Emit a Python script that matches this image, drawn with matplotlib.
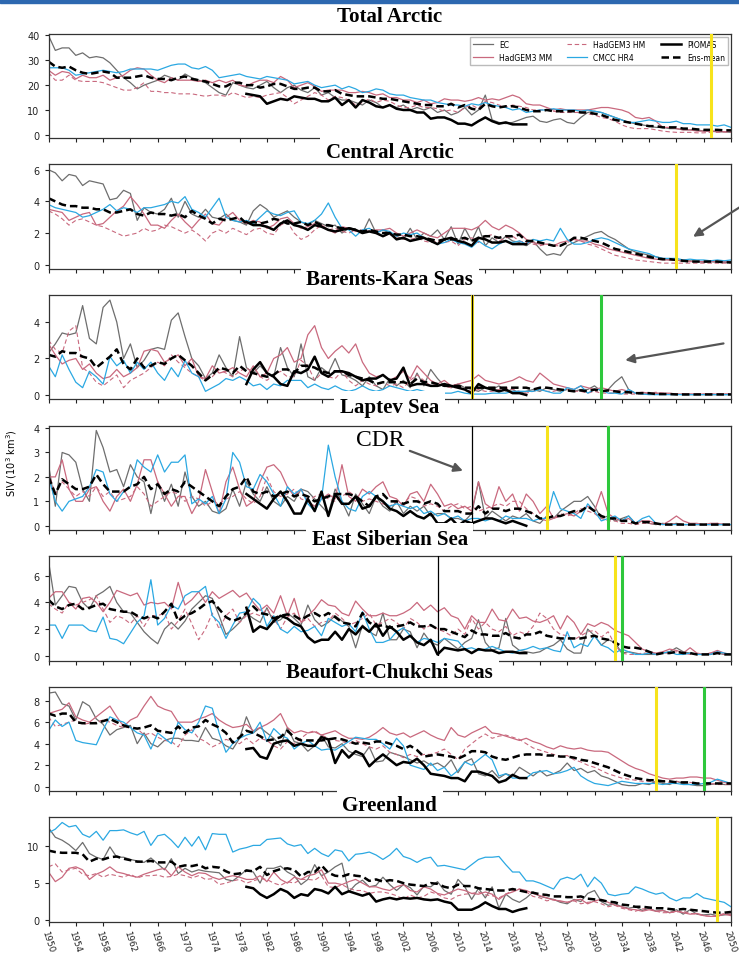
import numpy as np
import matplotlib
matplotlib.use("Agg")
import matplotlib.pyplot as plt
from matplotlib.patches import Rectangle

years = np.arange(1950, 2051)
piomas_years = np.arange(1979, 2021)

# Total Arctic
ta_ec = [40, 34, 35, 35, 32, 33, 31, 31.5, 31, 29,
         26, 23, 21, 18.5, 20, 21, 22, 24, 23, 22,
         24.5, 23, 22, 21, 19, 17, 16, 21, 20, 19,
         18.5, 20, 21.5, 19, 17, 19, 20, 18, 17, 19,
         16, 17, 15, 14, 14, 13, 12, 14, 13, 11,
         12, 11, 12, 10, 11, 10, 11, 9, 10, 8,
         9, 11, 8, 10, 16, 6, 5, 4.5, 5, 6,
         7, 7.5, 5.5, 5, 6, 6.5, 5, 4.5, 7, 9,
         9.5, 9, 8, 7, 6, 5, 4.5, 4, 3.5, 3,
         3, 2.5, 2.5, 2, 2, 2, 1.5, 1.5, 1.2, 1.2,
         1]
ta_mm = [26, 24, 25.5, 25, 22.5, 24, 23, 23, 24, 22,
         23, 24, 26, 27, 26.5, 24, 22, 21, 23, 22,
         22, 22, 21.5, 22, 21, 22, 21, 22, 20, 19.5,
         21, 22, 22, 21, 23.5, 22, 19, 20, 21, 19.5,
         17.5, 18, 18, 18, 17, 17, 17.5, 17, 16, 16.5,
         15, 15, 14, 14, 13, 14, 12.5, 13, 14.5, 14,
         14, 13.5, 14, 15, 14, 14.5, 14, 15, 16, 15,
         12.5, 12, 12, 11, 10, 10.5, 10, 10, 10, 10,
         10.5, 11, 11, 10.5, 10, 9, 7, 6.5, 7, 5.5,
         3, 3, 2.5, 2, 2, 1.5, 1.5, 1.5, 1.5, 1.2,
         1.5]
ta_hm = [25, 22, 22, 24, 22, 21.5, 21.5, 21.5, 21, 20,
         19, 18, 18, 19, 21, 17.5, 17.5, 17, 17, 16.5,
         16.5, 16.5, 16, 15.5, 16, 16, 15.5, 17, 16, 15,
         15.5, 15, 16, 16.5, 17, 15, 12.5, 14, 15.5, 17,
         16, 14, 15.5, 15, 14, 12, 13, 14.5, 13, 14,
         13.5, 12, 11, 11, 12, 11, 11, 10.5, 9.5, 10,
         9, 11, 12, 10.5, 13.5, 13, 12, 11, 12, 11.5,
         11, 10, 10, 10, 9.5, 9, 9, 9, 9, 8.5,
         8, 7, 6.5, 5.5, 4, 3, 2.5, 2.5, 2.5, 2,
         1.5, 1.2, 1, 1, 1, 0.8, 0.8, 1, 1, 1.2,
         1]
ta_cmcc = [27, 27, 27, 26, 24, 24.5, 25, 25.5, 26, 25.5,
           25, 25.5, 26.5, 26.5, 26.5, 26.5, 26, 27, 28, 28.5,
           28.5, 27, 26.5, 27.5, 26, 23, 23.5, 24, 24.5, 23.5,
           23, 22.5, 23.5, 23, 22.5, 22, 20.5, 21, 21.5, 20,
           19, 19.5, 20, 18.5, 19.5, 18.5, 17, 17.5, 18.5, 18,
           16.5, 16, 16, 15, 14.5, 14, 14, 13, 12.5, 12,
           12, 11.5, 12.5, 12, 13, 12, 11.5, 11, 10, 10.5,
           9, 9.5, 10, 10, 10.5, 10, 10, 10, 9.5, 10,
           9.5, 9, 8, 7, 6, 5, 5, 5.5, 6, 5.5,
           5, 5, 5.5, 4.5, 4.5, 4, 4, 4, 3.5, 4,
           3]
ta_ens = [29.5, 27.5, 27, 27.5, 26, 25, 24.5, 25, 25.5, 25,
          23, 23, 23, 23.5, 24, 23, 22.5, 22.5, 22, 23,
          23.5, 22.5, 22, 21.5, 20.5, 19.5, 19.5, 21, 21, 20,
          20, 19, 19.5, 20.5, 20.5, 19.5, 18.5, 18.5, 19, 19,
          17.5, 17.5, 18, 16.5, 16, 15.5, 15.5, 15.5, 15, 14.5,
          14.5, 14, 13.5, 13, 12.5, 12, 12, 11.5, 11.5, 12.5,
          11, 12, 10.5, 10, 12.5, 11.5, 11, 11.5, 11.5, 11,
          10, 9.5, 9.5, 10, 9.5, 9.5, 9.5, 9.5, 9, 9,
          8.5, 8, 7, 6, 5.5, 5, 4.5, 4, 3.5, 3.5,
          3, 3, 3, 2.5, 2.5, 2.2, 2, 2, 2, 1.8,
          1.8]
ta_pio = [16.5,
          16, 15.5, 12.5, 13.5, 14.5, 14, 15.5, 15, 14.5, 14.5,
          13.5, 13.5, 15, 12, 14, 11, 14, 13, 11.5, 11,
          12, 10.5, 10, 10, 9, 9, 6.5, 7, 7, 6,
          4.5, 4.5, 3.8, 5.5, 7, 5.5, 4.5, 5, 4.2, 4.2,
          4.2]

# Central Arctic
ca_ec = [6.0, 5.8, 5.3, 5.7, 5.6, 5.0, 5.3, 5.2, 5.1, 4.1,
         4.2, 4.7, 4.5, 2.8, 3.6, 3.3, 3.2, 3.5, 4.2, 3.0,
         4.0, 3.2, 3.0, 3.5, 3.0, 2.9, 3.2, 2.8, 2.7, 2.5,
         3.4, 3.8, 3.5, 3.0, 3.2, 3.4, 3.0, 2.7, 2.5, 2.8,
         2.6, 2.4, 2.5, 2.0, 2.3, 2.2, 2.0, 2.9, 2.0, 2.2,
         2.0, 1.8, 1.6, 2.3, 1.6, 2.0, 1.8, 2.2, 1.6, 2.4,
         1.3, 2.3, 1.5, 2.4, 1.2, 1.7, 1.4, 1.8, 1.5, 1.4,
         1.2, 1.5, 1.0, 0.6, 0.7, 0.6, 1.2, 1.4, 1.6, 1.8,
         2.0, 2.1, 1.8, 1.6, 1.3, 1.0, 0.8, 0.7, 0.6, 0.5,
         0.4, 0.3, 0.3, 0.2, 0.25, 0.2, 0.15, 0.2, 0.15, 0.15,
         0.15]
ca_mm = [3.5, 3.4, 3.3, 2.8, 3.0, 3.2, 3.3, 2.5, 2.6, 3.0,
         3.4, 3.7, 4.3, 3.8, 3.2, 2.5, 2.5, 2.3, 2.8, 3.2,
         2.7, 2.3, 2.8, 3.2, 2.6, 2.5, 3.0, 3.3, 2.8, 2.6,
         2.8, 2.7, 2.3, 2.5, 2.9, 3.0, 2.6, 2.3, 2.4, 2.6,
         2.5, 2.2, 2.0, 2.4, 2.3, 2.1, 2.2, 2.1, 2.2, 2.2,
         2.3, 2.0, 1.8, 2.0, 2.2, 2.0, 1.8, 1.7, 2.0, 2.3,
         2.3, 2.3, 2.2, 2.4, 2.8, 2.4, 2.2, 2.5, 2.3, 2.0,
         1.6, 1.4, 1.3, 1.3, 1.2, 1.4, 1.5, 1.6, 1.5, 1.5,
         1.3, 1.2, 1.0, 0.9, 0.8, 0.7, 0.6, 0.5, 0.4, 0.35,
         0.3, 0.3, 0.3, 0.25, 0.2, 0.2, 0.2, 0.2, 0.2, 0.2,
         0.15]
ca_hm = [3.4, 3.2, 2.9, 2.5, 2.8, 2.9, 2.7, 2.5, 2.4, 2.2,
         2.0, 1.8, 1.9, 2.0, 2.3, 2.1, 2.2, 2.5, 2.4, 2.2,
         2.0, 2.2, 1.9, 1.5, 2.0, 2.2, 2.0, 2.3, 2.1, 1.9,
         2.2, 2.3, 2.0, 1.9, 2.5, 2.7, 2.0, 1.6, 1.8, 2.2,
         2.5, 2.2, 2.3, 2.1, 2.0, 2.2, 2.0, 2.1, 2.0, 1.8,
         1.9, 1.7, 1.6, 1.6, 1.7, 1.5, 1.4, 1.5, 1.4, 1.5,
         1.2, 1.6, 1.7, 1.4, 1.8, 1.9, 1.5, 1.7, 1.8, 1.5,
         1.4, 1.3, 1.2, 1.3, 1.2, 1.2, 1.4, 1.6, 1.5, 1.3,
         1.2, 1.0, 0.8, 0.6, 0.5, 0.4, 0.3, 0.25, 0.2, 0.15,
         0.1, 0.1, 0.1, 0.1, 0.1, 0.1, 0.1, 0.1, 0.1, 0.1,
         0.1]
ca_cmcc = [3.8, 3.6, 3.5, 3.4, 3.3, 3.0, 3.1, 3.3, 3.5, 3.8,
           3.4, 3.6, 3.5, 3.3, 3.6, 3.6, 3.7, 3.8, 4.0, 3.9,
           4.3, 3.5, 3.3, 3.0, 3.6, 4.2, 3.0, 2.8, 2.7, 2.8,
           2.6, 3.0, 3.4, 3.2, 3.1, 3.3, 3.4, 2.7, 2.6, 2.8,
           3.2, 3.9, 3.0, 2.3, 2.2, 1.8, 2.2, 2.3, 2.0, 2.2,
           2.1, 1.8, 2.0, 1.9, 2.0, 1.7, 1.5, 1.3, 1.4, 1.6,
           1.4, 1.3, 1.1, 1.5, 1.2, 1.0, 1.3, 1.5, 1.4, 1.5,
           1.3, 1.6, 1.5, 1.6, 1.5, 2.3, 1.6, 1.3, 1.3, 1.4,
           1.6, 1.7, 1.6, 1.4, 1.2, 1.0, 0.9, 0.8, 0.7, 0.5,
           0.4, 0.4, 0.4, 0.3, 0.35, 0.3, 0.3, 0.25, 0.3, 0.25,
           0.3]
ca_ens = [4.2, 4.0, 3.8, 3.7, 3.7, 3.6, 3.6, 3.5, 3.5, 3.3,
          3.3, 3.4, 3.5, 3.2, 3.1, 3.3, 3.2, 3.2, 3.1, 3.2,
          3.0, 3.4, 3.1, 2.9, 2.6, 2.9, 2.8, 2.9, 3.0, 2.6,
          2.7, 2.6, 2.7, 2.9, 2.8, 2.6, 2.6, 2.7, 2.5, 2.7,
          2.5, 2.5, 2.4, 2.3, 2.3, 2.2, 2.1, 2.2, 2.1, 2.0,
          2.0, 1.9, 1.9, 1.8, 1.8, 1.7, 1.6, 1.5, 1.6, 1.6,
          1.6, 1.7, 1.5, 1.7, 1.8, 1.8, 1.7, 1.8, 1.8, 1.9,
          1.5, 1.5, 1.4, 1.3, 1.2, 1.2, 1.4, 1.7, 1.7, 1.6,
          1.5, 1.4, 1.2, 1.0, 0.9, 0.8, 0.7, 0.6, 0.5, 0.4,
          0.35, 0.35, 0.3, 0.25, 0.2, 0.2, 0.2, 0.2, 0.2, 0.15,
          0.15]
ca_pio = [2.7,
          2.5, 2.5, 2.4, 2.2, 2.6, 2.8, 2.5, 2.4, 2.2, 2.5,
          2.4, 2.2, 2.1, 2.2, 2.3, 2.2, 2.0, 2.1, 2.0, 1.8,
          2.0, 1.6, 1.7, 1.5, 1.6, 1.7, 1.5, 1.3, 1.6, 1.7,
          1.5, 1.4, 1.2, 1.7, 1.6, 1.4, 1.4, 1.5, 1.3, 1.3,
          1.3]

# Barents-Kara Seas
bk_ec = [2.3, 2.8, 3.4, 3.3, 3.4, 4.9, 3.1, 2.8, 4.8, 5.2,
         4.0, 2.0, 2.8, 1.5, 1.9, 2.5, 2.6, 2.5, 4.1, 4.5,
         3.2, 2.0, 1.6, 0.9, 1.2, 2.2, 1.5, 1.0, 3.2, 1.5,
         1.2, 1.6, 1.2, 1.0, 2.6, 1.5, 1.0, 2.8, 1.0, 0.8,
         1.5, 1.2, 2.0, 1.1, 1.0, 0.8, 0.5, 1.0, 0.5, 0.3,
         0.9, 0.5, 0.8, 0.4, 1.2, 0.5, 1.4, 0.9, 0.5, 0.4,
         0.6, 0.4, 0.3, 0.2, 0.4, 0.3, 0.5, 0.2, 0.3, 0.1,
         0.2, 0.3, 0.2, 0.4, 0.3, 0.2, 0.3, 0.2, 0.3, 0.3,
         0.5, 0.2, 0.3, 0.7, 1.0, 0.3, 0.1, 0.05, 0.05, 0.1,
         0.05, 0.05, 0.05, 0.02, 0.02, 0.02, 0.02, 0.02, 0.02, 0.02,
         0.02]
bk_mm = [2.8, 2.2, 1.7, 1.9, 2.0, 1.4, 1.7, 1.2, 0.9, 1.0,
         1.4, 1.0, 1.2, 1.5, 2.4, 2.5, 2.4, 1.8, 2.0, 2.2,
         1.6, 2.0, 1.0, 0.9, 1.6, 1.2, 1.3, 1.5, 1.2, 1.0,
         1.6, 1.0, 1.2, 2.0, 2.2, 2.6, 1.8, 2.0, 3.3, 3.8,
         2.6, 2.0, 2.4, 2.7, 2.3, 2.8, 1.8, 1.2, 1.0, 1.1,
         0.8, 1.0, 1.3, 0.9, 1.6, 1.2, 0.8, 0.6, 0.8, 0.5,
         0.6, 0.7, 0.8, 1.1, 0.8, 0.7, 0.6, 0.7, 0.8, 1.0,
         0.8, 0.7, 1.2, 0.9, 0.6, 0.5, 0.4, 0.3, 0.5, 0.4,
         0.3, 0.4, 0.3, 0.2, 0.3, 0.2, 0.1, 0.15, 0.1, 0.1,
         0.1, 0.1, 0.05, 0.05, 0.05, 0.05, 0.05, 0.05, 0.05, 0.05,
         0.05]
bk_hm = [3.0, 2.5, 2.3, 3.5, 3.8, 1.5, 1.2, 0.7, 0.5, 0.8,
         1.1, 0.4, 0.8, 1.0, 1.2, 1.5, 1.8, 1.6, 2.2, 1.8,
         1.5, 1.2, 1.0, 0.8, 1.0, 1.4, 1.2, 1.0, 1.3, 1.5,
         1.2, 1.0, 0.8, 1.1, 1.3, 1.0, 1.0, 1.9, 1.6, 0.8,
         1.2, 1.0, 0.9, 1.3, 0.8, 0.5, 0.8, 0.6, 0.5, 0.7,
         0.5, 0.6, 0.4, 0.8, 1.1, 0.8, 0.5, 0.6, 0.5, 0.4,
         0.4, 0.3, 0.2, 0.3, 0.2, 0.2, 0.3, 0.4, 0.3, 0.2,
         0.1, 0.2, 0.3, 0.2, 0.2, 0.3, 0.3, 0.2, 0.2, 0.1,
         0.2, 0.1, 0.1, 0.1, 0.05, 0.05, 0.05, 0.05, 0.1, 0.15,
         0.1, 0.05, 0.05, 0.05, 0.05, 0.05, 0.05, 0.05, 0.05, 0.05,
         0.05]
bk_cmcc = [1.6, 1.0, 2.2, 1.4, 0.7, 0.4, 1.3, 1.0, 0.6, 2.1,
           1.6, 1.9, 1.2, 1.8, 1.4, 1.8, 1.2, 0.8, 1.5, 1.0,
           1.9, 1.2, 1.0, 0.2, 0.4, 0.6, 0.9, 0.8, 1.0, 0.8,
           0.5, 0.6, 0.3, 0.6, 0.5, 0.8, 0.8, 0.8, 0.4, 0.6,
           0.4, 0.3, 0.5, 0.3, 0.2, 0.3, 0.5, 0.3, 0.2, 0.3,
           0.5, 0.4, 0.3, 0.2, 0.3, 0.2, 0.1, 0.1, 0.1, 0.1,
           0.2, 0.1, 0.05, 0.05, 0.05, 0.1, 0.1, 0.1, 0.2, 0.2,
           0.2, 0.2, 0.3, 0.2, 0.1, 0.1, 0.4, 0.3, 0.5, 0.1,
           0.3, 0.3, 0.1, 0.1, 0.05, 0.3, 0.1, 0.05, 0.02, 0.02,
           0.02, 0.02, 0.02, 0.02, 0.02, 0.02, 0.02, 0.02, 0.02, 0.02,
           0.02]
bk_ens = [2.2, 2.1, 2.4, 2.3, 2.3, 2.1, 2.0, 1.5, 1.8, 2.1,
          2.5, 1.7, 1.4, 2.0, 1.5, 1.6, 1.8, 1.7, 2.0, 2.2,
          1.9, 1.6, 1.2, 0.8, 1.1, 1.5, 1.4, 1.2, 1.6, 1.3,
          1.2, 1.1, 1.0, 1.1, 1.4, 1.4, 1.2, 1.6, 1.6, 1.5,
          1.3, 1.2, 1.3, 1.3, 1.1, 1.0, 0.9, 0.8, 0.6, 0.7,
          0.7, 0.7, 0.7, 0.6, 0.9, 0.7, 0.7, 0.6, 0.5, 0.5,
          0.5, 0.4, 0.4, 0.4, 0.4, 0.4, 0.4, 0.4, 0.4, 0.4,
          0.4, 0.3, 0.4, 0.4, 0.35, 0.3, 0.25, 0.2, 0.25, 0.2,
          0.3, 0.2, 0.25, 0.2, 0.15, 0.15, 0.1, 0.1, 0.1, 0.05,
          0.05, 0.05, 0.03, 0.03, 0.03, 0.03, 0.03, 0.03, 0.03, 0.03,
          0.03]
bk_pio = [0.6,
          1.4, 1.8, 1.2, 1.0, 0.6, 0.5, 1.3, 1.2, 1.4, 2.1,
          1.2, 1.0, 1.3, 1.3, 1.2, 1.0, 0.8, 0.9, 0.9, 1.1,
          0.8, 0.9, 1.5, 0.5, 0.6, 0.6, 0.5, 0.5, 0.6, 0.5,
          0.4, 0.3, 0.1, 0.6, 0.4, 0.3, 0.2, 0.3, 0.1, 0.1,
          0.0]

# Laptev Sea
lp_ec = [2.5, 0.8, 3.0, 2.9, 2.6, 1.5, 1.0, 3.9, 3.2, 2.2,
         2.3, 1.6, 2.5, 2.0, 1.8, 0.5, 1.8, 1.0, 1.7, 0.8,
         2.2, 1.2, 0.8, 1.0, 0.6, 0.5, 0.7, 1.5, 0.8, 1.8,
         1.3, 1.0, 1.6, 1.0, 0.8, 1.2, 1.0, 1.5, 1.4, 1.1,
         0.8, 0.5, 1.5, 1.0, 0.4, 1.3, 0.9, 0.5, 1.2, 0.8,
         0.6, 1.0, 0.5, 0.8, 0.6, 0.8, 0.4, 0.5, 0.5, 0.3,
         0.3, 0.2, 0.5, 1.8, 0.3, 0.6, 0.4, 0.2, 0.4, 0.3,
         0.5, 0.2, 0.1, 0.4, 0.3, 0.6, 0.8, 1.0, 1.0, 1.2,
         0.8, 0.3, 0.4, 0.2, 0.3, 0.4, 0.1, 0.2, 0.1, 0.05,
         0.1, 0.05, 0.1, 0.05, 0.05, 0.05, 0.05, 0.05, 0.05, 0.05,
         0.05]
lp_mm = [2.0, 2.0, 2.7, 1.5, 1.0, 1.0, 1.5, 1.6, 1.0, 0.6,
         1.2, 1.5, 1.0, 1.7, 2.7, 2.7, 1.8, 1.3, 0.8, 1.2,
         1.2, 0.5, 1.0, 2.3, 1.4, 0.5, 1.8, 2.4, 1.5, 0.8,
         1.0, 1.8, 2.4, 2.5, 2.2, 1.6, 1.2, 1.5, 1.0, 0.8,
         1.1, 1.3, 1.1, 2.5, 1.2, 1.0, 1.5, 1.3, 1.6, 1.8,
         1.2, 1.1, 0.8, 1.3, 1.4, 1.0, 1.7, 1.3, 0.8, 0.9,
         0.7, 0.8, 0.6, 1.8, 0.9, 0.7, 1.6, 1.0, 1.3, 0.6,
         1.3, 1.0, 0.5, 0.8, 0.3, 0.4, 0.5, 0.4, 0.6, 0.8,
         0.6, 1.4, 0.5, 0.3, 0.2, 0.3, 0.1, 0.2, 0.2, 0.1,
         0.05, 0.2, 0.4, 0.2, 0.1, 0.1, 0.05, 0.1, 0.1, 0.05,
         0.05]
lp_hm = [2.2, 1.3, 1.8, 1.5, 1.2, 1.4, 1.2, 1.6, 1.2, 1.4,
         1.0, 1.1, 1.2, 1.6, 1.3, 0.8, 1.0, 1.2, 1.4, 1.3,
         1.0, 1.2, 1.1, 0.8, 1.0, 0.9, 1.1, 1.2, 1.4, 1.1,
         0.9, 1.2, 2.0, 1.4, 1.2, 1.3, 1.5, 1.1, 1.0, 1.2,
         1.3, 1.1, 1.0, 1.2, 1.4, 1.2, 1.0, 1.1, 1.0, 0.9,
         0.8, 1.0, 0.9, 1.2, 1.1, 0.8, 0.9, 0.8, 0.6, 0.8,
         0.9, 0.7, 0.8, 0.6, 0.7, 0.8, 0.9, 0.8, 1.0, 1.0,
         0.7, 0.5, 0.3, 0.2, 0.3, 0.5, 0.4, 0.5, 0.7, 0.6,
         0.5, 0.3, 0.2, 0.2, 0.1, 0.1, 0.05, 0.1, 0.1, 0.05,
         0.1, 0.05, 0.1, 0.05, 0.05, 0.05, 0.05, 0.05, 0.1, 0.05,
         0.05]
lp_cmcc = [2.0, 1.0, 0.6, 1.0, 1.1, 1.2, 1.6, 2.3, 2.2, 1.3,
           1.0, 1.4, 1.6, 2.7, 2.4, 2.2, 2.9, 2.2, 2.6, 2.6,
           2.9, 0.9, 1.1, 0.9, 1.2, 0.5, 1.1, 3.0, 2.6, 1.6,
           1.5, 2.1, 1.8, 1.3, 0.8, 1.6, 1.3, 1.5, 0.9, 0.6,
           1.1, 3.3, 2.0, 1.0, 0.7, 0.6, 1.2, 1.4, 1.2, 1.0,
           0.8, 0.9, 0.8, 0.7, 0.8, 0.5, 0.6, 0.4, 0.5, 0.3,
           0.4, 0.2, 0.3, 0.3, 0.2, 0.3, 0.2, 0.4, 0.3, 0.3,
           0.3, 0.2, 0.3, 0.3, 1.4, 0.7, 0.6, 0.5, 0.3, 0.9,
           0.6, 0.2, 0.3, 0.4, 0.2, 0.4, 0.1, 0.3, 0.4, 0.1,
           0.05, 0.05, 0.05, 0.05, 0.05, 0.05, 0.05, 0.05, 0.05, 0.05,
           0.05]
lp_ens = [2.0, 1.3, 1.9, 1.7, 1.5, 1.5, 1.6, 2.1, 1.7, 1.4,
          1.4, 1.4, 1.6, 1.7, 2.0, 1.5, 1.7, 1.3, 1.5, 1.4,
          1.8, 1.6, 1.4, 1.2, 1.0, 0.8, 1.2, 1.5, 1.6, 2.0,
          1.4, 1.3, 1.4, 1.2, 1.3, 1.4, 1.2, 1.3, 1.2, 1.0,
          1.1, 1.2, 1.3, 1.3, 1.3, 1.2, 1.0, 0.8, 1.2, 1.3,
          1.0, 1.0, 0.9, 1.0, 1.0, 0.9, 1.0, 0.9, 0.6, 0.6,
          0.6, 0.5, 0.5, 0.8, 0.5, 0.7, 0.7, 0.6, 0.7, 0.7,
          0.6, 0.5, 0.3, 0.3, 0.4, 0.4, 0.5, 0.6, 0.6, 0.8,
          0.6, 0.4, 0.3, 0.3, 0.2, 0.2, 0.1, 0.15, 0.15, 0.1,
          0.05, 0.05, 0.05, 0.05, 0.05, 0.05, 0.05, 0.05, 0.05, 0.05,
          0.05]
lp_pio = [1.3,
          1.1, 0.9, 0.7, 1.1, 1.4, 1.0, 0.5, 0.5, 1.1, 0.6,
          1.4, 0.4, 1.3, 0.9, 0.9, 1.2, 0.7, 0.8, 1.2, 1.0,
          0.7, 0.6, 0.4, 0.6, 0.4, 0.3, 0.5, 0.1, 0.1, 0.3,
          0.0, 0.2, 0.1, 0.2, 0.3, 0.3, 0.2, 0.1, 0.2, 0.1,
          0.0]

# East Siberian Sea
es_ec = [7.1, 3.8, 4.5, 5.2, 5.1, 4.0, 3.5, 4.5, 4.8, 5.2,
         4.0, 3.3, 3.2, 2.5, 1.8, 1.3, 0.9, 2.0, 2.5, 2.0,
         2.6, 3.5, 4.0, 4.5, 4.3, 3.0, 1.6, 2.0, 2.5, 3.2,
         2.8, 2.5, 3.6, 2.5, 2.7, 3.2, 2.8, 2.3, 3.8, 2.7,
         2.2, 2.5, 3.0, 2.6, 2.2, 0.6, 2.3, 1.8, 1.5, 3.2,
         1.2, 1.2, 2.0, 1.8, 0.6, 1.7, 1.0, 0.8, 1.3, 0.9,
         0.5, 1.0, 1.3, 2.7, 1.0, 0.4, 0.6, 2.8, 0.8, 0.4,
         0.3, 0.2, 0.3, 0.6, 0.8, 1.2, 0.5, 0.2, 0.2, 2.0,
         1.5, 0.8, 1.2, 1.0, 0.2, 0.3, 0.2, 0.1, 0.1, 0.1,
         0.2, 0.3, 0.6, 0.3, 0.2, 0.1, 0.1, 0.1, 0.2, 0.1,
         0.1]
es_mm = [4.3, 4.8, 4.8, 4.0, 3.5, 4.3, 4.4, 4.0, 3.3, 4.0,
         4.9, 4.7, 4.5, 4.7, 3.8, 4.0, 3.9, 4.0, 3.5, 5.5,
         3.8, 4.2, 4.8, 4.0, 4.8, 4.3, 4.6, 4.9, 4.4, 4.7,
         4.0, 3.4, 3.8, 3.2, 4.5, 3.0, 4.3, 2.5, 3.0, 3.5,
         4.2, 3.8, 3.7, 3.2, 3.0, 4.1, 3.5, 3.0, 3.0, 3.2,
         3.0, 3.0, 3.2, 3.5, 4.0, 3.4, 3.8, 3.3, 3.6, 3.0,
         2.8, 2.0, 3.0, 2.5, 2.5, 3.5, 2.7, 2.6, 3.5, 2.8,
         2.9, 2.6, 2.5, 2.7, 3.0, 2.0, 3.0, 2.5, 1.6, 2.4,
         2.2, 2.5, 2.3, 1.9, 1.7, 1.5, 1.0, 0.5, 0.3, 0.2,
         0.3, 0.5, 0.4, 0.2, 0.6, 0.2, 0.1, 0.2, 0.4, 0.2,
         0.1]
es_hm = [3.9, 3.5, 3.2, 4.0, 3.8, 4.0, 4.2, 4.5, 3.5, 2.5,
         3.0, 2.8, 2.4, 3.0, 2.2, 3.0, 3.0, 3.2, 2.0, 2.6,
         3.5, 2.4, 1.2, 2.0, 3.2, 2.0, 3.0, 3.5, 2.5, 3.0,
         3.2, 3.0, 3.5, 2.8, 2.0, 2.9, 3.2, 2.5, 2.8, 2.2,
         2.5, 2.6, 3.2, 2.8, 2.3, 2.5, 2.8, 3.2, 2.3, 2.5,
         2.8, 2.5, 2.0, 2.8, 2.5, 2.0, 2.3, 2.0, 1.8, 1.5,
         2.0, 1.6, 2.8, 2.0, 2.5, 2.0, 1.8, 2.2, 1.5, 1.8,
         1.6, 2.2, 3.2, 2.8, 2.0, 1.6, 1.5, 1.2, 1.5, 1.8,
         1.9, 1.4, 1.8, 0.8, 0.2, 0.1, 0.1, 0.2, 0.2, 0.15,
         0.2, 0.2, 0.3, 0.2, 0.1, 0.1, 0.1, 0.2, 0.3, 0.1,
         0.1]
es_cmcc = [2.3, 2.3, 1.3, 2.3, 2.3, 2.3, 1.9, 1.8, 2.9, 1.3,
           1.2, 0.9, 1.7, 2.5, 3.0, 5.7, 2.3, 2.8, 3.8, 3.5,
           4.5, 4.8, 4.8, 5.2, 3.0, 2.5, 1.3, 2.3, 3.2, 3.3,
           4.3, 3.8, 2.2, 3.0, 2.0, 1.7, 2.2, 1.8, 1.9, 2.2,
           1.5, 2.8, 2.5, 2.2, 2.4, 1.8, 3.3, 2.0, 1.0, 1.0,
           1.2, 1.8, 2.1, 1.5, 1.0, 1.3, 1.2, 1.0, 1.3, 1.2,
           1.1, 0.5, 0.6, 0.4, 0.5, 0.7, 0.5, 0.3, 0.2, 0.4,
           0.5, 0.7, 0.5, 0.6, 0.4, 0.3, 1.8, 0.6, 0.9, 0.7,
           1.5, 0.8, 0.6, 0.2, 0.5, 0.3, 0.1, 0.1, 0.2, 0.1,
           0.2, 0.3, 0.1, 0.1, 0.2, 0.1, 0.1, 0.1, 0.3, 0.2,
           0.1]
es_ens = [4.2, 3.7, 3.5, 3.8, 3.9, 3.5, 3.6, 3.8, 3.9, 3.5,
          3.4, 3.3, 3.3, 3.0, 2.8, 3.0, 2.8, 3.3, 3.9, 2.6,
          3.0, 3.2, 3.5, 3.9, 4.1, 3.5, 2.9, 2.6, 2.8, 3.2,
          3.7, 3.2, 3.1, 2.8, 3.0, 3.1, 3.0, 2.7, 3.0, 3.2,
          2.9, 3.2, 2.9, 2.5, 2.4, 2.2, 3.2, 2.5, 2.2, 2.3,
          2.1, 2.2, 2.3, 2.5, 2.2, 2.2, 2.3, 2.0, 2.0, 1.8,
          1.6, 1.4, 1.9, 1.6, 1.6, 1.5, 1.5, 1.7, 1.4, 1.3,
          1.6, 1.6, 1.8, 1.5, 1.4, 1.3, 1.3, 1.3, 1.3, 1.4,
          1.5, 1.3, 1.2, 1.0, 0.7, 0.6, 0.6, 0.5, 0.3, 0.1,
          0.2, 0.2, 0.3, 0.2, 0.2, 0.1, 0.1, 0.1, 0.2, 0.1,
          0.1]
es_pio = [3.6,
          1.8, 2.2, 2.0, 2.6, 3.0, 2.8, 2.4, 2.2, 1.4, 1.0,
          1.2, 1.2, 1.8, 1.2, 2.0, 1.6, 2.2, 1.8, 2.4, 1.5,
          2.2, 1.8, 1.2, 1.5, 1.0, 0.8, 1.2, 0.1, 0.6, 0.5,
          0.4, 0.5, 0.2, 0.5, 0.4, 0.4, 0.2, 0.3, 0.3, 0.2,
          0.2]

# Beaufort-Chukchi Seas
bc_ec = [8.7, 8.8, 7.7, 7.5, 6.2, 7.9, 7.5, 6.3, 5.8, 4.8,
         5.3, 5.5, 5.7, 4.0, 5.0, 4.0, 3.7, 4.3, 4.5, 4.5,
         4.3, 4.3, 4.2, 5.5, 4.5, 4.3, 3.8, 3.5, 4.5, 6.5,
         5.0, 5.5, 5.0, 4.5, 3.8, 5.5, 4.2, 4.0, 3.3, 3.8,
         4.8, 3.7, 3.6, 4.0, 3.3, 3.0, 2.8, 3.7, 2.3, 2.4,
         3.2, 3.0, 2.8, 2.5, 2.2, 2.4, 2.0, 2.2, 1.8, 2.5,
         1.3, 2.3, 2.6, 1.2, 1.0, 1.5, 0.8, 1.2, 1.0, 1.8,
         1.4, 1.0, 1.5, 1.0, 1.2, 1.5, 2.2, 1.5, 1.7, 1.3,
         1.5, 1.0, 0.8, 0.5, 0.2, 0.1, 0.1, 0.3, 0.2, 0.5,
         0.3, 0.2, 0.5, 0.3, 0.2, 0.1, 0.1, 0.2, 0.3, 0.2,
         0.2]
bc_mm = [6.8, 7.0, 7.2, 7.8, 6.5, 6.2, 6.0, 6.5, 7.0, 7.5,
         6.5, 5.6, 6.2, 6.5, 7.5, 8.4, 7.5, 7.2, 7.0, 6.0,
         6.0, 6.0, 6.3, 6.5, 6.8, 6.2, 5.8, 5.5, 5.6, 5.8,
         5.2, 5.5, 5.8, 6.2, 6.8, 5.5, 5.0, 5.2, 5.0, 5.1,
         4.8, 5.0, 5.2, 4.8, 4.5, 4.5, 4.4, 4.6, 5.0, 5.5,
         5.0, 4.8, 5.0, 4.6, 4.9, 5.2, 4.8, 4.5, 4.3, 5.5,
         4.8, 4.6, 5.0, 5.3, 5.6, 5.0, 4.9, 4.7, 4.5, 4.3,
         4.5, 4.2, 4.0, 3.7, 3.5, 3.8, 3.6, 3.5, 3.6, 3.4,
         3.3, 3.3, 3.2, 2.8, 2.4, 2.0, 1.7, 1.5, 1.2, 1.0,
         0.8, 0.7, 0.8, 0.8, 0.9, 0.9, 0.8, 0.8, 0.6, 0.4,
         0.3]
bc_hm = [6.5, 5.6, 5.8, 6.0, 6.2, 5.8, 5.9, 6.0, 6.2, 6.0,
         5.7, 5.5, 5.5, 5.4, 4.8, 5.0, 4.6, 4.3, 4.2, 3.7,
         4.8, 5.3, 4.5, 4.2, 3.7, 4.0, 4.4, 4.2, 4.0, 4.5,
         4.0, 4.5, 4.3, 3.8, 3.5, 4.2, 4.0, 4.5, 5.0, 5.2,
         4.8, 4.5, 4.3, 4.2, 4.0, 4.3, 4.0, 3.7, 3.5, 3.8,
         3.2, 3.0, 2.7, 3.0, 2.8, 3.0, 3.0, 3.2, 3.5, 3.0,
         2.5, 3.5, 4.0, 4.5, 4.9, 4.5, 4.7, 4.8, 4.6, 4.4,
         4.0, 3.6, 3.4, 3.2, 3.0, 2.8, 2.9, 2.5, 2.3, 2.0,
         1.8, 1.5, 1.2, 1.0, 0.8, 0.7, 0.6, 0.5, 0.5, 0.4,
         0.5, 0.4, 0.5, 0.4, 0.4, 0.3, 0.2, 0.3, 0.2, 0.2,
         0.2]
bc_cmcc = [5.2, 6.2, 5.6, 6.0, 4.3, 4.1, 4.0, 3.9, 5.3, 6.5,
           6.2, 6.0, 5.5, 5.0, 4.8, 3.5, 5.0, 4.5, 4.0, 6.0,
           5.3, 5.0, 6.0, 7.5, 7.3, 5.0, 3.2, 4.0, 4.5, 4.8,
           5.0, 6.0, 4.2, 5.4, 4.8, 4.5, 3.5, 4.0, 4.3, 3.8,
           3.4, 3.5, 3.4, 3.8, 4.2, 4.6, 4.5, 4.4, 4.4, 4.0,
           3.5, 4.5, 3.8, 2.0, 1.8, 1.6, 2.2, 1.5, 1.8, 1.0,
           1.5, 2.3, 2.0, 2.5, 3.0, 2.5, 1.0, 1.2, 0.8, 0.8,
           0.8, 1.3, 1.4, 1.5, 1.2, 1.3, 1.5, 1.8, 1.0, 0.6,
           0.3, 0.2, 0.1, 0.3, 0.5, 0.4, 0.3, 0.3, 0.3, 0.3,
           0.2, 0.3, 0.3, 0.2, 0.2, 0.2, 0.3, 0.4, 0.7, 0.5,
           0.3]
bc_ens = [6.8, 6.6, 6.8, 6.8, 6.0, 5.9, 5.9, 5.9, 6.1, 6.3,
          6.0, 5.7, 5.5, 5.4, 5.5, 5.7, 5.2, 5.1, 5.0, 5.6,
          5.0, 5.5, 5.6, 6.2, 5.8, 5.5, 5.0, 4.1, 4.6, 5.2,
          5.0, 4.7, 4.3, 4.4, 4.6, 5.2, 4.6, 4.3, 4.3, 4.3,
          4.3, 4.4, 4.5, 4.4, 4.2, 4.0, 4.1, 4.0, 4.2, 4.2,
          4.0, 3.8, 3.5, 3.8, 3.4, 2.8, 2.9, 3.0, 2.9, 2.8,
          2.6, 2.9, 3.3, 3.3, 3.2, 2.8, 2.6, 2.5, 2.7, 2.9,
          3.0, 3.0, 3.0, 2.9, 2.9, 2.8, 2.8, 2.7, 2.5, 2.4,
          2.2, 2.0, 1.8, 1.5, 1.2, 1.0, 0.8, 0.7, 0.6, 0.6,
          0.5, 0.5, 0.4, 0.4, 0.4, 0.3, 0.3, 0.3, 0.3, 0.3,
          0.3]
bc_pio = [3.5,
          3.6, 2.8, 2.6, 4.0, 4.2, 4.3, 3.8, 4.0, 3.8, 3.8,
          4.6, 4.4, 2.2, 3.4, 2.7, 3.3, 3.0, 1.9, 2.5, 3.0,
          2.5, 2.0, 2.3, 2.2, 2.6, 2.0, 1.2, 1.1, 1.0, 0.8,
          0.8, 0.5, 1.4, 1.4, 1.2, 1.0, 0.4, 0.6, 1.1, 0.8,
          0.8]

# Greenland
gl_ec = [12.5, 11.2, 10.8, 10.2, 9.4, 10.5, 9.0, 8.5, 8.2, 9.9,
         8.5, 8.5, 8.2, 8.0, 7.8, 8.4, 7.6, 6.8, 8.3, 6.3,
         7.0, 6.5, 6.8, 6.6, 6.5, 6.4, 5.5, 5.3, 6.0, 6.8,
         6.5, 5.0, 7.0, 7.0, 7.3, 6.5, 6.0, 4.8, 5.5, 7.5,
         6.0, 6.5, 7.2, 7.7, 3.8, 4.8, 5.4, 4.5, 4.7, 5.8,
         4.8, 4.0, 4.8, 4.4, 3.4, 4.6, 4.5, 5.2, 4.0, 3.5,
         5.5, 4.5, 2.8, 4.3, 3.0, 4.5, 1.6, 3.5, 2.8, 2.4,
         3.0, 3.8, 3.2, 3.0, 2.8, 2.4, 2.2, 2.8, 2.5, 3.6,
         4.0, 2.5, 2.0, 2.2, 1.8, 1.6, 1.8, 1.3, 1.6, 1.2,
         1.3, 1.0, 1.4, 0.8, 1.4, 0.8, 0.7, 0.8, 0.6, 0.7,
         0.8]
gl_mm = [6.5, 5.2, 5.8, 7.0, 7.2, 6.8, 5.5, 6.2, 6.6, 7.2,
         6.5, 6.3, 6.0, 5.8, 6.2, 6.5, 6.8, 7.0, 6.0, 7.2,
         6.5, 6.0, 6.4, 6.3, 5.8, 5.5, 5.8, 6.0, 5.8, 5.5,
         5.5, 6.0, 5.2, 6.5, 5.5, 5.0, 5.8, 5.5, 6.0, 6.2,
         6.8, 5.0, 5.0, 4.8, 5.2, 5.5, 5.0, 4.5, 4.5, 4.2,
         4.0, 4.5, 4.8, 4.0, 3.8, 4.5, 4.2, 3.6, 3.4, 3.8,
         4.2, 4.0, 3.6, 3.5, 3.8, 3.5, 2.8, 3.5, 3.8, 4.2,
         4.0, 3.6, 3.3, 3.0, 2.7, 2.6, 2.4, 2.7, 2.8, 2.2,
         2.6, 2.8, 2.4, 2.0, 1.8, 1.5, 1.4, 1.2, 1.4, 1.2,
         1.3, 1.0, 1.2, 1.0, 0.8, 0.9, 0.6, 0.5, 0.5, 0.8,
         0.6]
gl_hm = [7.2, 7.6, 6.5, 6.8, 7.0, 6.2, 6.0, 6.3, 5.8, 6.2,
         6.0, 5.8, 6.2, 5.7, 6.0, 6.0, 6.1, 5.8, 5.9, 6.2,
         6.0, 5.7, 6.0, 5.5, 5.6, 4.8, 5.0, 5.3, 5.5, 5.0,
         5.3, 5.6, 5.5, 5.0, 4.7, 5.2, 5.0, 5.5, 5.5, 5.4,
         6.0, 4.5, 4.4, 4.8, 4.3, 4.0, 4.0, 3.6, 3.8, 3.8,
         3.6, 3.3, 2.8, 3.4, 3.0, 3.2, 3.8, 3.5, 3.0, 2.8,
         3.3, 3.5, 3.6, 3.8, 3.4, 3.3, 3.0, 3.5, 4.0, 4.2,
         3.8, 3.2, 3.0, 2.6, 2.8, 2.5, 2.4, 2.6, 2.2, 2.4,
         2.5, 2.2, 1.8, 2.0, 1.6, 1.4, 1.2, 1.5, 1.6, 1.2,
         1.0, 1.0, 1.1, 1.2, 0.9, 0.8, 0.6, 0.5, 0.6, 0.9,
         0.8]
gl_cmcc = [11.8, 12.3, 13.2, 12.6, 12.8, 11.6, 11.2, 12.0, 10.8, 12.1,
           12.1, 12.2, 11.8, 11.5, 12.0, 10.1, 11.4, 11.6, 10.8, 9.8,
           11.2, 10.0, 11.3, 9.5, 11.7, 11.6, 11.6, 9.2, 9.6, 9.8,
           10.1, 10.1, 10.9, 11.0, 11.1, 10.3, 10.0, 10.2, 9.0, 9.7,
           9.0, 8.6, 9.5, 9.3, 8.0, 8.9, 9.0, 9.2, 8.8, 8.2,
           8.8, 9.7, 8.6, 8.3, 7.8, 8.3, 8.5, 7.3, 7.4, 7.2,
           7.0, 6.8, 7.5, 8.2, 8.5, 8.5, 8.6, 7.5, 6.5, 6.5,
           5.3, 5.3, 5.0, 4.6, 4.2, 5.5, 5.8, 5.5, 6.2, 4.5,
           5.8, 5.0, 3.5, 3.3, 3.5, 3.6, 4.5, 4.2, 3.8, 3.5,
           3.7, 3.0, 2.6, 3.0, 3.0, 3.6, 3.0, 2.8, 2.6, 2.4,
           1.8]
gl_ens = [9.4, 9.2, 9.1, 9.1, 9.1, 8.9, 7.9, 8.3, 8.2, 8.5,
          8.6, 8.3, 8.1, 7.9, 7.9, 8.0, 7.8, 7.8, 7.9, 7.2,
          7.4, 7.3, 7.5, 7.0, 7.2, 7.1, 6.6, 6.2, 6.3, 6.7,
          6.6, 7.2, 6.1, 6.6, 6.9, 7.0, 6.8, 5.9, 6.5, 6.5,
          7.4, 6.4, 6.0, 5.9, 6.2, 6.0, 5.9, 5.3, 5.5, 5.2,
          5.4, 5.3, 5.0, 4.8, 4.7, 4.6, 5.0, 4.9, 4.5, 4.3,
          4.8, 4.6, 4.6, 4.3, 4.2, 4.1, 4.0, 4.0, 4.2, 4.0,
          3.8, 3.7, 3.5, 3.4, 3.2, 3.2, 3.1, 3.1, 3.2, 2.9,
          2.8, 2.7, 2.5, 2.4, 2.1, 2.0, 1.8, 1.8, 1.7, 1.6,
          1.6, 1.5, 1.4, 1.5, 1.4, 1.3, 1.2, 1.1, 1.0, 1.0,
          1.1]
gl_pio = [4.5,
          4.3, 3.5, 3.0, 3.5, 4.2, 3.8, 3.0, 3.5, 3.3, 4.2,
          4.0, 3.6, 4.5, 3.5, 3.9, 3.6, 3.3, 3.6, 2.5, 2.8,
          3.0, 2.8, 3.0, 2.9, 3.0, 2.8, 2.7, 2.8, 2.5, 2.3,
          1.4, 1.4, 1.4, 1.8, 2.4, 1.9, 1.5, 1.5, 1.1, 1.4,
          1.6]

titles = ["Total Arctic", "Central Arctic", "Barents-Kara Seas", "Laptev Sea",
          "East Siberian Sea", "Beaufort-Chukchi Seas", "Greenland"]
ec_all = [ta_ec, ca_ec, bk_ec, lp_ec, es_ec, bc_ec, gl_ec]
mm_all = [ta_mm, ca_mm, bk_mm, lp_mm, es_mm, bc_mm, gl_mm]
hm_all = [ta_hm, ca_hm, bk_hm, lp_hm, es_hm, bc_hm, gl_hm]
cmcc_all = [ta_cmcc, ca_cmcc, bk_cmcc, lp_cmcc, es_cmcc, bc_cmcc, gl_cmcc]
ens_all = [ta_ens, ca_ens, bk_ens, lp_ens, es_ens, bc_ens, gl_ens]
pio_all = [ta_pio, ca_pio, bk_pio, lp_pio, es_pio, bc_pio, gl_pio]

yellow_years = [2047, 2042, 2012, 2023, 2033, 2039, 2048]
green_years = [None, None, 2031, 2032, 2034, 2046, None]
cdr_years = [None, None, 2012, 2012, 2007, None, None]

ylims = [(-1.4, 40.6), (-0.27, 6.36), (-0.22, 5.48), (-0.16, 4.07),
         (-0.37, 7.5), (-0.43, 9.27), (-0.3, 13.9)]
yticks = [[0, 10, 20, 30, 40], [0, 2, 4, 6], [0, 2, 4], [0, 1, 2, 3, 4],
          [0, 2, 4, 6], [0, 2, 4, 6, 8], [0, 5, 10]]

c_ec = "#6e6e6e"
c_had = "#c9697e"
c_cmcc = "#2ba8e2"
c_yellow = "#f7e31c"
c_green = "#2ec83c"

W, H = 739.0, 954.0
x0, x1 = 48.5, 731.0
axes_px = [(35, 139.3), (165, 270), (296, 400), (427.3, 530.7),
           (556.7, 661.7), (688, 792.3), (818.3, 923.3)]
title_px = [17, 153, 280, 408, 540, 673, 806]

fig = plt.figure(figsize=(7.39, 9.54), dpi=100)
fig.add_artist(Rectangle((0, 1 - 4 / H), 1, 4 / H, transform=fig.transFigure,
                         color="#2d68b0", zorder=30))

axs = []
for i in range(7):
    top, bot = axes_px[i]
    ax = fig.add_axes([x0 / W, 1 - bot / H, (x1 - x0) / W, (bot - top) / H])
    ax.set_zorder(2 * i + 2)
    ax.plot(years, ec_all[i], color=c_ec, lw=0.9, label="EC")
    ax.plot(years, mm_all[i], color=c_had, lw=0.9, label="HadGEM3 MM")
    ax.plot(years, hm_all[i], color=c_had, lw=0.8, ls=(0, (4, 2.5)), label="HadGEM3 HM")
    ax.plot(years, cmcc_all[i], color=c_cmcc, lw=0.9, label="CMCC HR4")
    ax.plot(piomas_years, pio_all[i], color="black", lw=1.8, label="PIOMAS")
    ax.plot(years, ens_all[i], color="black", lw=1.8, ls=(0, (3, 1.6)), label="Ens-mean")
    if yellow_years[i] is not None:
        ax.axvline(yellow_years[i], color=c_yellow, lw=2.2, zorder=6)
    if green_years[i] is not None:
        ax.axvline(green_years[i], color=c_green, lw=2.2, zorder=6)
    if cdr_years[i] is not None:
        ax.axvline(cdr_years[i], color="black", lw=0.9, zorder=7)
    ax.set_xlim(1950, 2050)
    ax.set_ylim(*ylims[i])
    ax.set_yticks(yticks[i])
    ax.set_xticks(np.arange(1950, 2051, 4))
    ax.tick_params(labelsize=7, length=3, width=0.8, colors="#222222")
    for sp in ax.spines.values():
        sp.set_color("#333333")
        sp.set_linewidth(0.9)
    if i < 6:
        ax.tick_params(labelbottom=False)
    else:
        ax.tick_params(axis="x", labelsize=6.3, pad=1.5)
        for lab in ax.get_xticklabels():
            lab.set_rotation(-72)
            lab.set_ha("left")
            lab.set_va("top")
            lab.set_rotation_mode("anchor")
    fig.text(0.5 * (x0 + x1) / W, 1 - title_px[i] / H, titles[i],
             ha="center", va="center", fontsize=15, fontweight="bold",
             family="Liberation Serif", zorder=2 * i + 1,
             bbox=dict(facecolor="white", edgecolor="none", pad=4))
    axs.append(ax)

leg = axs[0].legend(loc="upper right", ncol=3, fontsize=5.5, handlelength=2.6,
                    columnspacing=2.0, borderaxespad=0.4, framealpha=1,
                    edgecolor="#bbbbbb", fancybox=False)
leg.set_zorder(5)

arrow = dict(arrowstyle="-|>", color="#555555", lw=1.6, mutation_scale=13)
axs[1].annotate("", xy=(2044.1, 1.67), xytext=(2053, 4.1), arrowprops=arrow,
                annotation_clip=False)
axs[2].annotate("", xy=(2034.1, 1.88), xytext=(2049.3, 2.85), arrowprops=arrow,
                annotation_clip=False)
axs[3].annotate("CDR", xy=(2011.1, 2.21), xytext=(1998.6, 3.52), fontsize=17,
                family="Liberation Serif", ha="center", va="center",
                arrowprops=arrow)

fig.text(12 / W, 1 - 463 / H, "SIV (10$^3$ km$^3$)", rotation=90,
         ha="center", va="center", fontsize=7)

fig.savefig("out.png", dpi=100)
